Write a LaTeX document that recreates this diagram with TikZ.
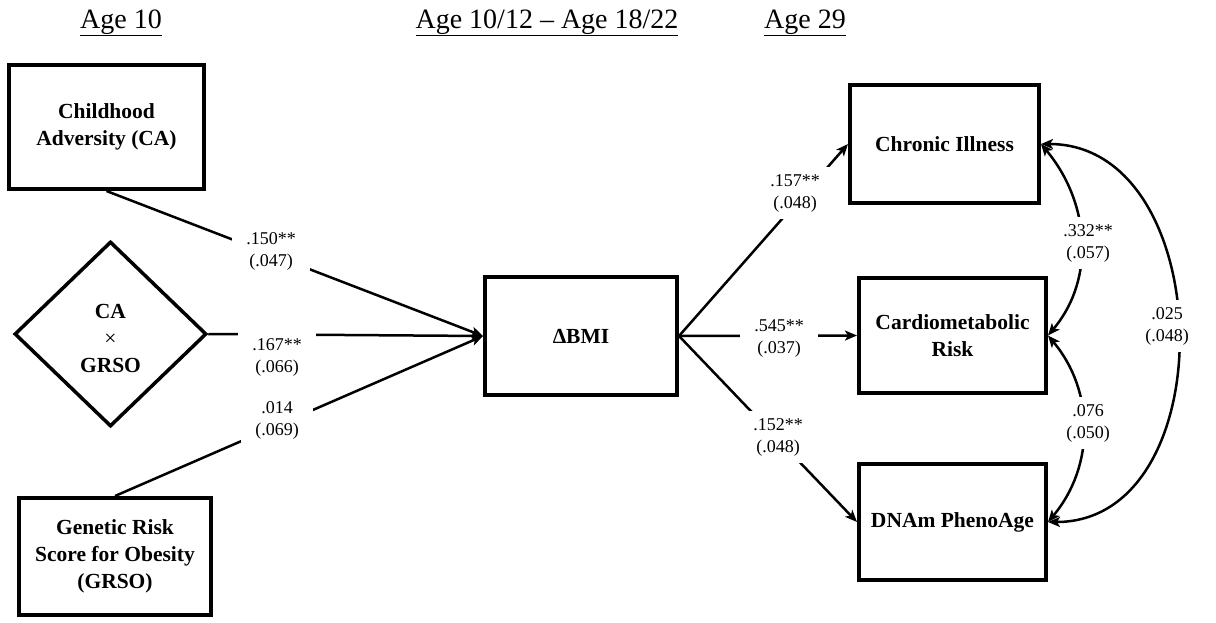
\documentclass[tikz,border=0pt]{standalone}
\usepackage{fontspec}
\setmainfont{Liberation Serif}
\usetikzlibrary{shapes.geometric,arrows.meta}
\tikzset{
  box/.style={draw, line width=4pt, rectangle, align=center, inner sep=2pt,
    font=\fontsize{21.5}{27}\selectfont\bfseries},
  dia/.style={draw, line width=3.5pt, diamond, align=center, inner sep=2pt,
    font=\fontsize{21.5}{27}\selectfont\bfseries},
  lab/.style={fill=white, align=center, inner xsep=14pt, inner ysep=7pt,
    font=\fontsize{18}{22}\selectfont},
  head/.style={anchor=base, font=\fontsize{28}{32}\selectfont},
  arr/.style={line width=2.5pt, -{Stealth[length=12pt,width=10pt,inset=3pt]}},
  cov/.style={line width=2.5pt, {Stealth[length=12pt,width=10pt,inset=3pt]}-{Stealth[length=12pt,width=10pt,inset=3pt]}}
}
\begin{document}
\begin{tikzpicture}[x=1pt,y=-1pt]
\useasboundingbox (0,0) rectangle (1216,622);
% headings
\node[head] (h1) at (121,28) {\underline{Age 10}};
\node[head] (h2) at (547,28) {\underline{Age 10/12 -- Age 18/22}};
\node[head] (h3) at (805,28) {\underline{Age 29}};
% nodes
\node[box, minimum width=195pt, minimum height=124pt] (ca) at (106.5,127) {Childhood\\Adversity (CA)};
\node[dia, minimum width=192pt, minimum height=185pt] (gx) at (110.5,334) {};
\node[font=\fontsize{21.5}{27}\selectfont\bfseries, align=center] (gxt) at (110.5,338) {CA\\{\mdseries ×}\\GRSO};
\node[box, minimum width=192pt, minimum height=117pt] (grso) at (115,556.5) {Genetic Risk\\Score for Obesity\\(GRSO)};
\node[box, minimum width=192pt, minimum height=118pt] (bmi) at (581,336) {ΔBMI};
\node[box, minimum width=189pt, minimum height=118pt] (ci) at (944.5,144) {Chronic Illness};
\node[box, minimum width=187pt, minimum height=115pt] (cm) at (952.5,335.5) {Cardiometabolic\\Risk};
\node[box, minimum width=187pt, minimum height=116pt] (dn) at (952.5,522) {DNAm PhenoAge};
% connectors
\draw[arr] (ca.south) -- (bmi.west);
\draw[arr] (gx.east) -- (bmi.west);
\draw[arr] (grso.north) -- (bmi.west);
\draw[arr] (bmi.east) -- (ci.west);
\draw[arr] (bmi.east) -- (cm.west);
\draw[arr] (bmi.east) -- (dn.west);
\draw[cov] (ci.east) to[out=-50,in=50] (cm.east);
\draw[cov] (cm.east) to[out=-50,in=50] (dn.east);
\draw[cov] (ci.east) to[out=0,in=0,looseness=1.2] (dn.east);
% labels
\node[lab] (l1) at (271,251) {.150**\\(.047)};
\node[lab] (l2) at (277,357) {.167**\\(.066)};
\node[lab] (l3) at (277,420) {.014\\(.069)};
\node[lab] (l4) at (795,193) {.157**\\(.048)};
\node[lab] (l5) at (779,338) {.545**\\(.037)};
\node[lab] (l6) at (778,437) {.152**\\(.048)};
\node[lab] (l7) at (1088,243) {.332**\\(.057)};
\node[lab] (l8) at (1088,423) {.076\\(.050)};
\node[lab] (l9) at (1167,326) {.025\\(.048)};
\end{tikzpicture}
\end{document}
